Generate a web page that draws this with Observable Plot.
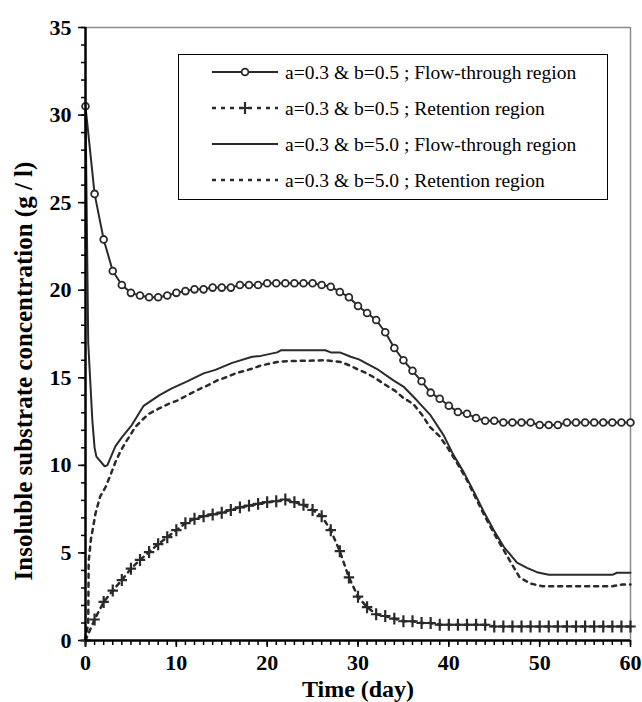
<!DOCTYPE html>
<html><head><meta charset="utf-8">
<script src="https://cdn.jsdelivr.net/npm/d3@7"></script>
<script src="https://cdn.jsdelivr.net/npm/@observablehq/plot@0.6"></script>
<style>
body{margin:0;background:#fff;}
#wrap{position:relative;width:642px;height:702px;}
#legend{position:absolute;left:178px;top:54px;}
</style></head><body><div id="wrap"></div>
<script>
// ---- data ----
const days = [0,1,2,3,4,5,6,7,8,9,10,11,12,13,14,15,16,17,18,19,20,21,22,23,24,25,26,27,28,29,30,
  31,32,33,34,35,36,37,38,39,40,41,42,43,44,45,46,47,48,49,50,51,52,53,54,55,56,57,58,59,60];
// a=0.3 & b=0.5 ; Flow-through region
const flowB05 = [30.5,25.5,22.9,21.1,20.3,19.85,19.7,19.6,19.6,19.7,
  19.85,19.95,20.05,20.05,20.15,20.15,20.15,20.3,20.3,20.3,
  20.4,20.4,20.4,20.4,20.4,20.4,20.3,20.2,19.9,19.6,
  19.1,18.7,18.3,17.6,16.7,16.0,15.4,14.8,14.15,13.8,
  13.4,13.05,12.95,12.7,12.55,12.55,12.45,12.45,12.45,12.45,
  12.3,12.3,12.3,12.45,12.45,12.45,12.45,12.45,12.45,12.45,12.45];
// a=0.3 & b=0.5 ; Retention region
const retB05 = [0,1.2,2.2,2.85,3.45,4.1,4.6,5.05,5.5,5.9,
  6.3,6.7,6.95,7.1,7.2,7.3,7.45,7.6,7.7,7.8,
  7.9,7.95,8.05,7.9,7.75,7.45,7.1,6.3,5.1,3.6,
  2.5,1.9,1.5,1.4,1.25,1.1,1.1,1.0,1.0,0.9,
  0.9,0.9,0.9,0.9,0.9,0.8,0.8,0.8,0.8,0.8,
  0.8,0.8,0.8,0.8,0.8,0.8,0.8,0.8,0.8,0.8,0.8];
// a=0.3 & b=5.0 ; Flow-through region
const flowB50x = [0,0.3,0.75,1.0,1.2,2.1,2.4,3.3,4.0,5.1,6.4,8.1,9.5,11.2,13.0,14.3,16.15,18.35,19.3,21.1,21.5,
  26.4,27.0,28.0,29.2,30.1,32.1,33.9,35.0,36.5,38.0,39.45,40.5,41.65,42.75,43.85,44.95,46.05,47.5,48.6,49.7,51.0,58.0,58.5,60];
const flowB50y = [30.5,17.0,12.6,11.0,10.5,9.95,10.0,11.1,11.6,12.3,13.4,14.0,14.4,14.8,15.25,15.45,15.85,16.2,16.25,16.45,16.57,
  16.57,16.45,16.45,16.2,16.05,15.5,14.85,14.5,13.7,12.85,11.7,10.6,9.6,8.5,7.35,6.3,5.35,4.45,4.15,3.9,3.75,3.75,3.87,3.87];
// a=0.3 & b=5.0 ; Retention region
const retB50x = [0,0.3,0.35,0.6,0.85,1.1,1.6,2.2,2.75,3.3,3.8,4.4,4.9,5.5,6.25,7.0,8.1,9.1,10.1,11.2,12.3,13.4,14.5,15.6,16.5,18.2,19.3,21.1,22.2,
  26.4,28.1,29.1,30.1,31.0,32.0,33.0,34.1,35.0,36.1,37.1,37.9,39.0,40.0,41.0,42.0,43.0,44.0,45.0,46.0,47.0,47.8,49.0,50.3,58.0,59.1,60];
const retB50y = [0,1.0,4.5,5.8,6.5,7.25,8.2,8.75,9.45,10.2,10.75,11.3,11.7,12.2,12.6,12.95,13.25,13.5,13.7,14.0,14.3,14.55,14.85,15.05,15.25,15.5,15.7,15.9,15.95,
  16.0,15.9,15.7,15.45,15.25,14.95,14.6,14.25,13.85,13.5,12.85,12.2,11.65,10.9,10.05,9.15,8.1,7.05,6.1,5.2,4.3,3.6,3.25,3.1,3.1,3.2,3.2];

const legendLabels = ["a=0.3 & b=0.5 ; Flow-through region","a=0.3 & b=0.5 ; Retention region",
  "a=0.3 & b=5.0 ; Flow-through region","a=0.3 & b=5.0 ; Retention region"];
const legendDashed = [false,true,false,true];
const legendMarker = ["circle","plus",null,null];
const yTicks = [0,5,10,15,20,25,30,35];
const xTicks = [0,10,20,30,40,50,60];
const xTitle = "Time (day)";
const yTitle = "Insoluble substrate concentration (g / l)";

// ---- tables ----
const tFlowB05 = days.map((d,i)=>({x:d,y:flowB05[i]}));
const tRetB05 = days.map((d,i)=>({x:d,y:retB05[i]}));
const tFlowB50 = flowB50x.map((d,i)=>({x:d,y:flowB50y[i]}));
const tRetB50 = retB50x.map((d,i)=>({x:d,y:retB50y[i]}));

const ink = "#2a2a2a";
const dash = "4,5";
const font = "Liberation Serif, Times New Roman, serif";
const plusSymbol = {draw(ctx,size){const r=Math.sqrt(size/Math.PI);ctx.moveTo(-r,0);ctx.lineTo(r,0);ctx.moveTo(0,-r*1.15);ctx.lineTo(0,r*1.15);}};

const chart = Plot.plot({
  width:642, height:702,
  marginLeft:85, marginRight:12, marginTop:27, marginBottom:62,
  style:{fontFamily:font, background:"#fff", color:"#000"},
  x:{domain:[0,60], label:null},
  y:{domain:[0,35], label:null},
  marks:[
    Plot.axisY({interval:1, tickSize:4, tickFormat:()=>"", label:null, strokeWidth:1.5}),
    Plot.axisY(yTicks, {tickSize:7, tickPadding:7, fontSize:22, fontWeight:"bold", label:null, strokeWidth:1.5}),
    Plot.axisX({interval:1, tickSize:5, tickFormat:()=>"", label:null, strokeWidth:1.5}),
    Plot.axisX(xTicks, {tickSize:7, tickPadding:7, fontSize:22, fontWeight:"bold", label:null, strokeWidth:1.5}),
    Plot.ruleX([60], {stroke:"#8a8a8a", strokeWidth:1.5}),
    Plot.ruleY([35], {stroke:"#8a8a8a", strokeWidth:1.5}),
    Plot.line(tRetB50, {x:"x", y:"y", stroke:ink, strokeWidth:2.5, strokeDasharray:dash}),
    Plot.line(tFlowB50, {x:"x", y:"y", stroke:ink, strokeWidth:2}),
    Plot.line(tRetB05, {x:"x", y:"y", stroke:ink, strokeWidth:2.5, strokeDasharray:dash}),
    Plot.dot(tRetB05, {x:"x", y:"y", symbol:plusSymbol, r:5.2, stroke:ink, strokeWidth:2.2, fill:"none"}),
    Plot.line(tFlowB05, {x:"x", y:"y", stroke:ink, strokeWidth:2}),
    Plot.dot(tFlowB05, {x:"x", y:"y", r:3.4, fill:"#fff", stroke:ink, strokeWidth:1.8}),
    Plot.ruleX([0], {stroke:"#000", strokeWidth:2.5}),
    Plot.ruleY([0], {stroke:"#000", strokeWidth:2.5}),
    Plot.text([yTitle], {text:d=>d, frameAnchor:"left", rotate:-90, dx:-62, dy:37, fontSize:25, fontWeight:"bold", textAnchor:"middle", lineAnchor:"middle"}),
    Plot.text([xTitle], {text:d=>d, frameAnchor:"bottom", dy:49.3, fontSize:24, fontWeight:"bold", textAnchor:"middle", lineAnchor:"middle"})
  ]
});
const wrap = document.getElementById("wrap");
wrap.appendChild(chart);

// ---- legend overlay ----
const lg = d3.create("svg").attr("id","legend").attr("width",431).attr("height",147);
lg.append("rect").attr("x",0.5).attr("y",0.5).attr("width",429).attr("height",145)
  .attr("fill","#fff").attr("stroke","#000").attr("stroke-width",1);
legendLabels.forEach((lab,i)=>{
  const cy = 18 + i*36;
  const g = lg.append("g");
  g.append("line").attr("x1",34).attr("x2",100).attr("y1",cy).attr("y2",cy)
    .attr("stroke",ink).attr("stroke-width",legendDashed[i]?2.5:2)
    .attr("stroke-dasharray",legendDashed[i]?dash:null);
  if(legendMarker[i]==="circle"){
    g.append("circle").attr("cx",67).attr("cy",cy).attr("r",3.4).attr("fill","#fff").attr("stroke",ink).attr("stroke-width",1.8);
  } else if(legendMarker[i]==="plus"){
    g.append("path").attr("d",`M62,${cy}H72M67,${cy-6}V${cy+6}`).attr("stroke",ink).attr("stroke-width",2.2).attr("fill","none");
  }
  g.append("text").attr("x",107).attr("y",cy).attr("dy","0.35em")
    .attr("font-family",font).attr("font-size",19.5).attr("fill","#000").text(lab);
});
wrap.appendChild(lg.node());
</script></body></html>
